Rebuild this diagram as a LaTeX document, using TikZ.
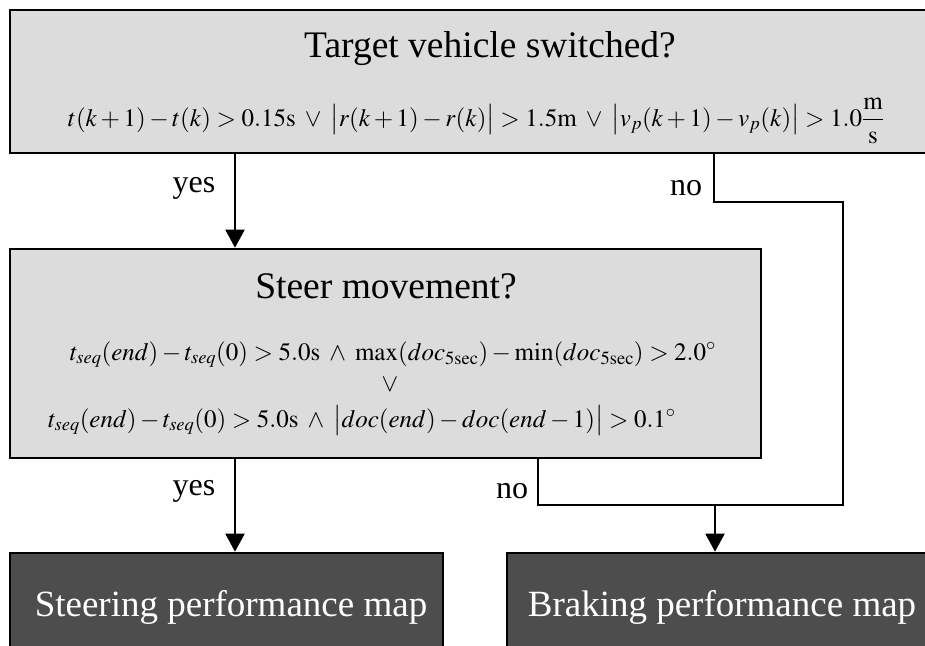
\documentclass[tikz,border=0pt]{standalone}
\usepackage{amsmath}
\usepackage{mathptmx}
\usepackage[no-math]{fontspec}
\setmainfont{Liberation Serif}
\usetikzlibrary{arrows.meta}
\definecolor{lightbox}{HTML}{DCDCDC}
\definecolor{darkbox}{HTML}{4D4D4D}
\tikzset{
  decbox/.style={draw=black, line width=2.6pt, fill=lightbox, rectangle, inner sep=0pt},
  mapbox/.style={draw=black, line width=2.6pt, fill=darkbox, rectangle, inner sep=0pt},
  conn/.style={draw=black, line width=2pt},
  arr/.style={conn, -{Triangle[length=18pt,width=19pt]}},
  titletxt/.style={anchor=base, inner sep=0pt, font=\fontsize{37.5}{41}\selectfont},
  maptxt/.style={anchor=base, inner sep=0pt, text=white, font=\fontsize{37}{41}\selectfont},
  formtxt/.style={anchor=base, inner sep=0pt, font=\fontsize{25}{29}\selectfont},
  lbl/.style={inner sep=0pt, font=\fontsize{32}{35}\selectfont}
}
\begin{document}
\begin{tikzpicture}[x=1pt, y=-1pt]
\useasboundingbox (0,0) rectangle (925,645);
\clip (0,0) rectangle (925,645);
% boxes
\node[decbox, minimum width=970pt, minimum height=143pt] (top) at (495,81.5) {};
\node[decbox, minimum width=751pt, minimum height=209pt] (steer) at (385.5,353.5) {};
\node[mapbox, minimum width=433pt, minimum height=147pt] (smap) at (226.5,626.5) {};
\node[mapbox, minimum width=430pt, minimum height=147pt] (bmap) at (722,626.5) {};
% texts
\node[titletxt] (toptitle) at (490,57) {Target vehicle switched?};
\node[formtxt] (topform) at (476,126) {$t(k+1)-t(k)>0.15\mathrm{s}\;\vee\;\bigl|r(k+1)-r(k)\bigr|>1.5\mathrm{m}\;\vee\;\bigl|v_p(k+1)-v_p(k)\bigr|>1.0\dfrac{\mathrm{m}}{\mathrm{s}}$};
\node[titletxt] (steertitle) at (386,298) {Steer movement?};
\node[formtxt] (steerf1) at (393,360) {$t_{seq}(end)-t_{seq}(0)>5.0\mathrm{s}\;\wedge\;\max(doc_{\mathrm{5sec}})-\min(doc_{\mathrm{5sec}})>2.0^\circ$};
\node[formtxt] (steeror) at (390,391) {$\vee$};
\node[formtxt] (steerf2) at (362,427) {$t_{seq}(end)-t_{seq}(0)>5.0\mathrm{s}\;\wedge\;\bigl|doc(end)-doc(end-1)\bigr|>0.1^\circ$};
\node[maptxt] (smaptxt) at (231,616) {Steering performance map};
\node[maptxt] (bmaptxt) at (722,616) {Braking performance map};
% coordinates
\coordinate (xa) at (235,0);
\coordinate (xb) at (714,0);
\coordinate (xs) at (538,0);
\coordinate (xm) at (715,0);
\coordinate (j1) at (714,202);
\coordinate (j2) at (843,202);
\coordinate (j3) at (843,505);
\coordinate (j4) at (538,505);
\coordinate (j5) at (715,505);
% connectors
\draw[arr] (top.south -| xa) -- (steer.north -| xa);
\draw[conn] (top.south -| xb) -- (j1) -- (j2) -- (j3) -- (j4) -- (steer.south -| xs);
\draw[arr] (steer.south -| xa) -- (smap.north -| xa);
\draw[arr] (j5) -- (bmap.north -| xm);
% labels
\node[lbl] (ly1) at (194,188) {yes};
\node[lbl] (ln1) at (686,188) {no};
\node[lbl] (ly2) at (194,491) {yes};
\node[lbl] (ln2) at (512,491) {no};
\end{tikzpicture}
\end{document}
